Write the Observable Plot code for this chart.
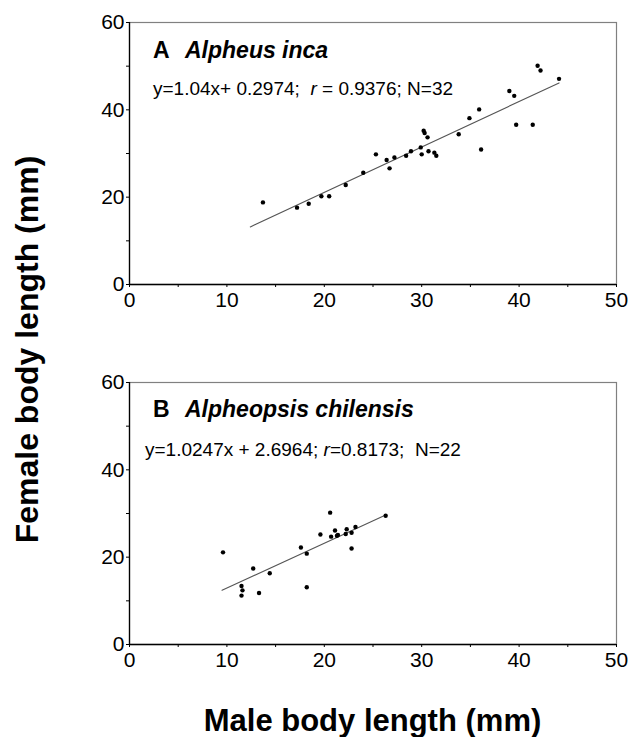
<!DOCTYPE html>
<html>
<head>
<meta charset="utf-8">
<script src="https://cdn.jsdelivr.net/npm/d3@7"></script>
<script src="https://cdn.jsdelivr.net/npm/@observablehq/plot@0.6"></script>
<style>
  html, body { margin: 0; padding: 0; background: #fff; }
  #wrap { position: relative; width: 631px; height: 737px; background: #fff; font-family: "Liberation Sans", Arial, sans-serif; color: #000; overflow: hidden; }
  .panel { position: absolute; left: 0; }
  .ylab { position: absolute; width: 460px; height: 31px; line-height: 31px; font-size: 32px; font-weight: bold; text-align: center; transform: rotate(-90deg); white-space: nowrap; }
  .xlab { position: absolute; left: 0; width: 745px; height: 31px; line-height: 31px; font-size: 31px; font-weight: bold; text-align: center; white-space: nowrap; }
  #wrap svg g[aria-label$="tick label"] text { font-size: 21px; }
</style>
</head>
<body>
<div id="wrap">
  <div id="pA" class="panel" style="top:0px"></div>
  <div id="pB" class="panel" style="top:340px"></div>
  <div class="ylab" style="left:-203px; top:334px;">Female body length (mm)</div>
  <div class="xlab" style="top:705px;">Male body length (mm)</div>
</div>
<script>
// ---- Data ----
const xTicks = [0, 10, 20, 30, 40, 50];
const xMinorTicks = [5, 15, 25, 35, 45];
const yTicks = [0, 20, 40, 60];
const yMinorTicks = [10, 30, 50];

const panelLetters = ["A", "B"];
const speciesNames = ["Alpheus inca", "Alpheopsis chilensis"];
const eqBefore = ["y=1.04x+ 0.2974;  ", "y=1.0247x + 2.6964; "];
const eqAfter = [" = 0.9376; N=32", "=0.8173;  N=22"];

const slopes = [1.04, 1.0247];
const intercepts = [0.2974, 2.6964];
const fitRanges = [[12.4, 44.1], [9.5, 26.3]];

const maleA = [13.7,17.2,18.4,19.7,20.5,22.2,24.0,25.3,26.4,26.7,27.2,28.4,28.9,30.0,29.9,30.2,30.3,30.6,30.7,31.3,31.5,33.8,34.9,35.9,36.1,39.0,39.5,39.7,41.4,41.9,42.2,44.1];
const femaleA = [18.8,17.6,18.5,20.2,20.2,22.8,25.6,29.8,28.5,26.6,29.1,29.5,30.5,29.8,31.4,35.2,34.7,33.7,30.5,30.2,29.5,34.4,38.1,40.1,30.9,44.3,43.2,36.6,36.6,50.1,49.0,47.1];

const maleB = [9.6,11.5,11.6,11.5,12.7,13.3,14.4,17.6,18.2,18.2,19.6,20.6,20.7,21.1,21.3,21.4,22.2,22.3,22.8,22.8,23.2,26.3];
const femaleB = [21.1,13.4,12.4,11.2,17.4,11.8,16.3,22.2,20.8,13.1,25.2,30.2,24.7,26.1,24.9,25.1,25.3,26.4,25.6,22.0,26.9,29.5];

const males = [maleA, maleB];
const females = [femaleA, femaleB];

// ---- Layout per panel ----
const layouts = [
  { el: "#pA", height: 315, marginTop: 22, marginBottom: 31, titleY: 58, eqX: 153, eqY: 95 },
  { el: "#pB", height: 340, marginTop: 42, marginBottom: 36, titleY: 77, eqX: 145, eqY: 116 }
];

const FONT = '"Liberation Sans", Arial, sans-serif';

layouts.forEach((L, i) => {
  const pts = males[i].map((m, k) => ({ male: m, female: females[i][k] }));
  const fit = fitRanges[i].map(x => ({ male: x, female: slopes[i] * x + intercepts[i] }));

  const plot = Plot.plot({
    width: 631,
    height: L.height,
    marginLeft: 129,
    marginRight: 15,
    marginTop: L.marginTop,
    marginBottom: L.marginBottom,
    style: { fontFamily: FONT, fontSize: "21px", background: "#fff", color: "#000", overflow: "visible" },
    x: { domain: [0, 50] },
    y: { domain: [0, 60] },
    marks: [
      Plot.frame({ stroke: "#808080", strokeWidth: 1.2 }),
      Plot.axisX({ ticks: xTicks, tickSize: 3, tickPadding: 5, fontSize: 21, label: null, tickFormat: d => String(d) }),
      Plot.axisX({ ticks: xMinorTicks, tickSize: 3, text: null, label: null }),
      Plot.axisY({ ticks: yTicks, tickSize: 3, tickPadding: 2, fontSize: 21, label: null, tickFormat: d => String(d) }),
      Plot.axisY({ ticks: yMinorTicks, tickSize: 3, text: null, label: null }),
      Plot.ruleX([0], { stroke: "#000", strokeWidth: 1.3 }),
      Plot.ruleY([0], { stroke: "#000", strokeWidth: 1.3 }),
      Plot.line(fit, { x: "male", y: "female", stroke: "#555", strokeWidth: 1.1 }),
      Plot.dot(pts, { x: "male", y: "female", r: 2.2, fill: "#000", stroke: "none" })
    ]
  });

  const svg = d3.select(plot);
  // panel title
  const t = svg.append("text")
    .attr("x", 153).attr("y", L.titleY)
    .attr("text-anchor", "start")
    .attr("font-family", FONT).attr("font-size", 23).attr("font-weight", "bold")
    .attr("fill", "#000");
  t.append("tspan").text(panelLetters[i]);
  t.append("tspan").attr("x", 185).attr("font-style", "italic").text(speciesNames[i]);

  // regression equation
  const e = svg.append("text")
    .attr("x", L.eqX).attr("y", L.eqY)
    .attr("text-anchor", "start")
    .attr("font-family", FONT).attr("font-size", 19)
    .attr("fill", "#000")
    .style("white-space", "pre");
  e.append("tspan").text(eqBefore[i]);
  e.append("tspan").attr("font-style", "italic").text("r");
  e.append("tspan").text(eqAfter[i]);

  document.querySelector(L.el).appendChild(plot);
});
</script>
</body>
</html>
